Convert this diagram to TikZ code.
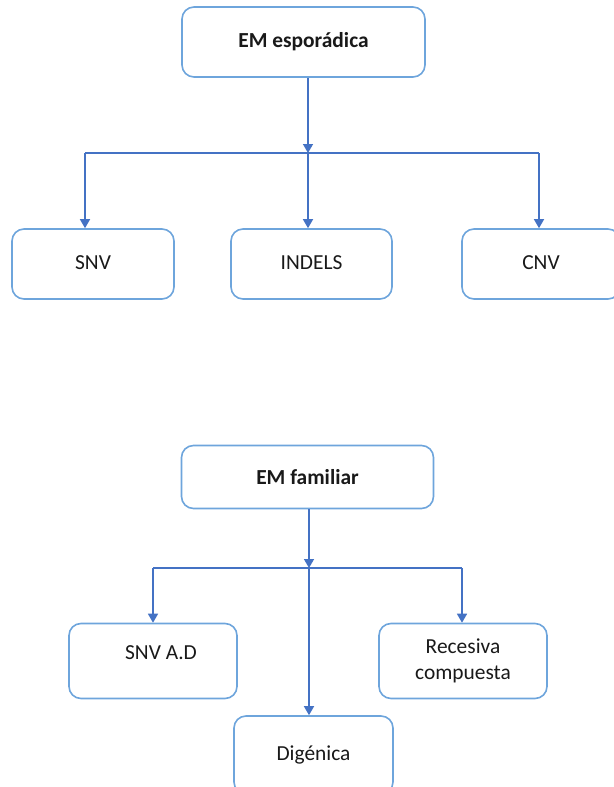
\documentclass[tikz,border=0pt]{standalone}
\usepackage{fontspec}
\setmainfont{Carlito}
\usetikzlibrary{arrows.meta}
\definecolor{boxblue}{RGB}{110,165,220}
\definecolor{arrowblue}{RGB}{68,114,196}
\tikzset{
  txtfont/.style={font=\fontsize{21.5}{26}\selectfont},
  box/.style={draw=boxblue, line width=1.6bp, rounded corners=12bp, fill=white,
    inner sep=0pt, align=center, txtfont, text=black!90},
  conn/.style={draw=arrowblue, line width=1.5bp},
  arr/.style={conn, -{Triangle[width=10bp,length=9bp]}},
}
\begin{document}
\begin{tikzpicture}[x=1bp,y=-1bp]
\useasboundingbox (0,0) rectangle (614,787);
\clip (0,0) rectangle (614,787);
% top tree
\node[box, minimum width=243bp, minimum height=70bp, font=\fontsize{21.5}{26}\selectfont\bfseries] (top1) at (303.5,42) {EM esporádica};
\node[box, minimum width=162bp, minimum height=70bp] (snv) at (93,264) {\raisebox{2bp}{SNV}};
\node[box, minimum width=161bp, minimum height=70bp] (indels) at (311.5,264) {\raisebox{2bp}{INDELS}};
\node[box, minimum width=158bp, minimum height=70bp] (cnv) at (541,264) {\raisebox{2bp}{CNV}};
\coordinate (j1) at (308,153);
\coordinate (j1l) at (85,153);
\coordinate (j1r) at (539,153);
\draw[arr] (top1.south -| j1) -- (j1);
\draw[conn] (j1l) -- (j1r);
\draw[arr] (j1l) -- (j1l |- snv.north);
\draw[arr] (j1) -- (j1 |- indels.north);
\draw[arr] (j1r) -- (j1r |- cnv.north);
% bottom tree
\node[box, minimum width=252bp, minimum height=63bp, font=\fontsize{21.5}{26}\selectfont\bfseries] (top2) at (307.5,477) {EM familiar};
\node[box, minimum width=168bp, minimum height=75bp, label={[txtfont, text=black!90, xshift=8bp, yshift=8bp]center:SNV A.D}] (snvad) at (153,661) {};
\node[box, minimum width=168bp, minimum height=75bp] (rec) at (463,661) {Recesiva\\compuesta};
\node[box, minimum width=159bp, minimum height=78bp] (dig) at (313.5,755) {Digénica};
\coordinate (j2) at (309,568);
\coordinate (j2l) at (153,568);
\coordinate (j2r) at (462,568);
\draw[arr] (top2.south -| j2) -- (j2);
\draw[conn] (j2l) -- (j2r);
\draw[arr] (j2l) -- (j2l |- snvad.north);
\draw[arr] (j2r) -- (j2r |- rec.north);
\draw[arr] (j2) -- (j2 |- dig.north);
\end{tikzpicture}
\end{document}
